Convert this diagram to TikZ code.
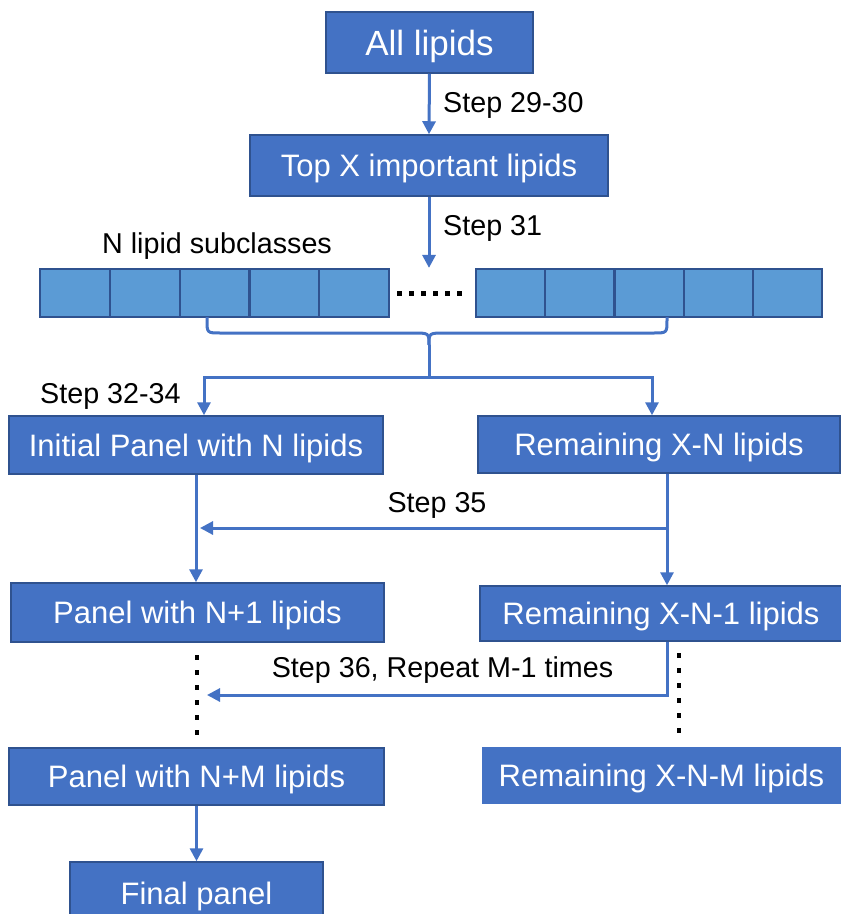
\documentclass[tikz,border=0pt]{standalone}
\usepackage{fontspec}
\setmainfont{Liberation Sans}
\usetikzlibrary{arrows.meta}
\definecolor{boxblue}{HTML}{4472C4}
\definecolor{boxline}{HTML}{2F528F}
\definecolor{cellblue}{HTML}{5B9BD5}
\definecolor{cellline}{HTML}{2F528F}
\definecolor{linkblue}{HTML}{4472C4}
\begin{document}
\begin{tikzpicture}[x=1pt,y=-1pt,
  flowbox/.style={draw=boxline, fill=boxblue, line width=1.5pt, text=white,
    inner sep=0pt, text depth=0pt, font=\fontsize{31}{36}\selectfont},
  cellbox/.style={draw=cellline, fill=cellblue, line width=2.2pt,
    minimum height=48pt, inner sep=0pt},
  link/.style={draw=linkblue, line width=3pt},
  flowarrow/.style={link, -{Triangle[length=13pt,width=13pt]}},
  steplabel/.style={font=\fontsize{28.7}{34}\selectfont, inner sep=0pt, anchor=base west},
  vdots/.style={line width=4pt, dash pattern=on 5pt off 10pt},
  hdots/.style={line width=5pt, dash pattern=on 5pt off 7pt}
]
\clip (0,0) rectangle (841,914);
\fill[white] (0,0) rectangle (841,914);

% main flow boxes
\node[flowbox, minimum width=207pt, minimum height=61pt, font=\fontsize{35}{40}\selectfont] (all) at (429.5,42.5) {All lipids};
\node[flowbox, minimum width=358pt, minimum height=61pt] (top) at (429,165.5) {Top X important lipids};
\node[flowbox, minimum width=374pt, minimum height=58pt] (init) at (196,445) {Initial Panel with N lipids};
\node[flowbox, minimum width=362pt, minimum height=57pt] (remN) at (659,444.5) {Remaining X-N lipids};
\node[flowbox, minimum width=373pt, minimum height=59pt] (p1) at (197.5,612.5) {Panel with N+1 lipids};
\node[flowbox, minimum width=362pt, minimum height=55pt] (rem1) at (661,613.5) {Remaining X-N-1 lipids};
\node[flowbox, minimum width=375pt, minimum height=57pt] (pM) at (196.5,776.5) {Panel with N+M lipids};
\node[flowbox, minimum width=357pt, minimum height=55pt, draw=boxblue] (remM) at (661.5,775.5) {Remaining X-N-M lipids};
\node[flowbox, minimum width=253pt, minimum height=63pt] (final) at (196.5,893.5) {Final panel};

% subclass strip
\foreach \i in {0,...,4} {
  \node[cellbox, minimum width=69.8pt] (L\i) at ({74.9+69.8*\i},293) {};
  \node[cellbox, minimum width=69.2pt] (R\i) at ({510.6+69.2*\i},293) {};
}
\draw[hdots] (397,293) -- (462,293);

% brace gathering the subclasses
\coordinate (bl) at (207,317);
\coordinate (br) at (667,317);
\coordinate (tip) at (429,345);
\coordinate (split) at (429,377);
\draw[link] (bl) -- (207,320) .. controls (207,333) .. (221,333) -- (413,333)
  .. controls (429,333) .. (tip);
\draw[link] (br) -- (667,320) .. controls (667,333) .. (653,333) -- (445,333)
  .. controls (429,333) .. (tip);
\draw[link] (tip) -- (split);
\draw[flowarrow] (split) -| ([xshift=8pt]init.north);
\draw[flowarrow] (split) -| ([xshift=-7pt]remN.north);

% top arrows
\draw[flowarrow] (all.south) -- (top.north);
\draw[flowarrow] (top.south) -- (top.south |- L0.north);

% step 35
\draw[flowarrow] (init.south) -- (init.south |- p1.north);
\draw[flowarrow] ([xshift=8pt]remN.south) -- ([xshift=8pt]remN.south |- rem1.north);
\coordinate (j35) at (667,528);
\coordinate (e35) at (200,528);
\draw[flowarrow] (j35) -- (e35);

% step 36
\coordinate (e36) at (207,695);
\draw[flowarrow] ([xshift=6pt]rem1.south) |- (e36);
\draw[vdots] (197,655) -- (197,735);
\draw[vdots] (679,653) -- (679,733);

% last step
\draw[flowarrow] (pM.south) -- (final.north);

% labels
\node[steplabel] (s2930) at (443,112) {Step 29-30};
\node[steplabel] (s31) at (443,235) {Step 31};
\node[steplabel] (nsub) at (102,253) {N lipid subclasses};
\node[steplabel] (s3234) at (40,403) {Step 32-34};
\node[steplabel, anchor=base] (s35) at (437,512) {Step 35};
\node[steplabel, anchor=base] (s36) at (442.5,677) {Step 36, Repeat M-1 times};
\end{tikzpicture}
\end{document}
